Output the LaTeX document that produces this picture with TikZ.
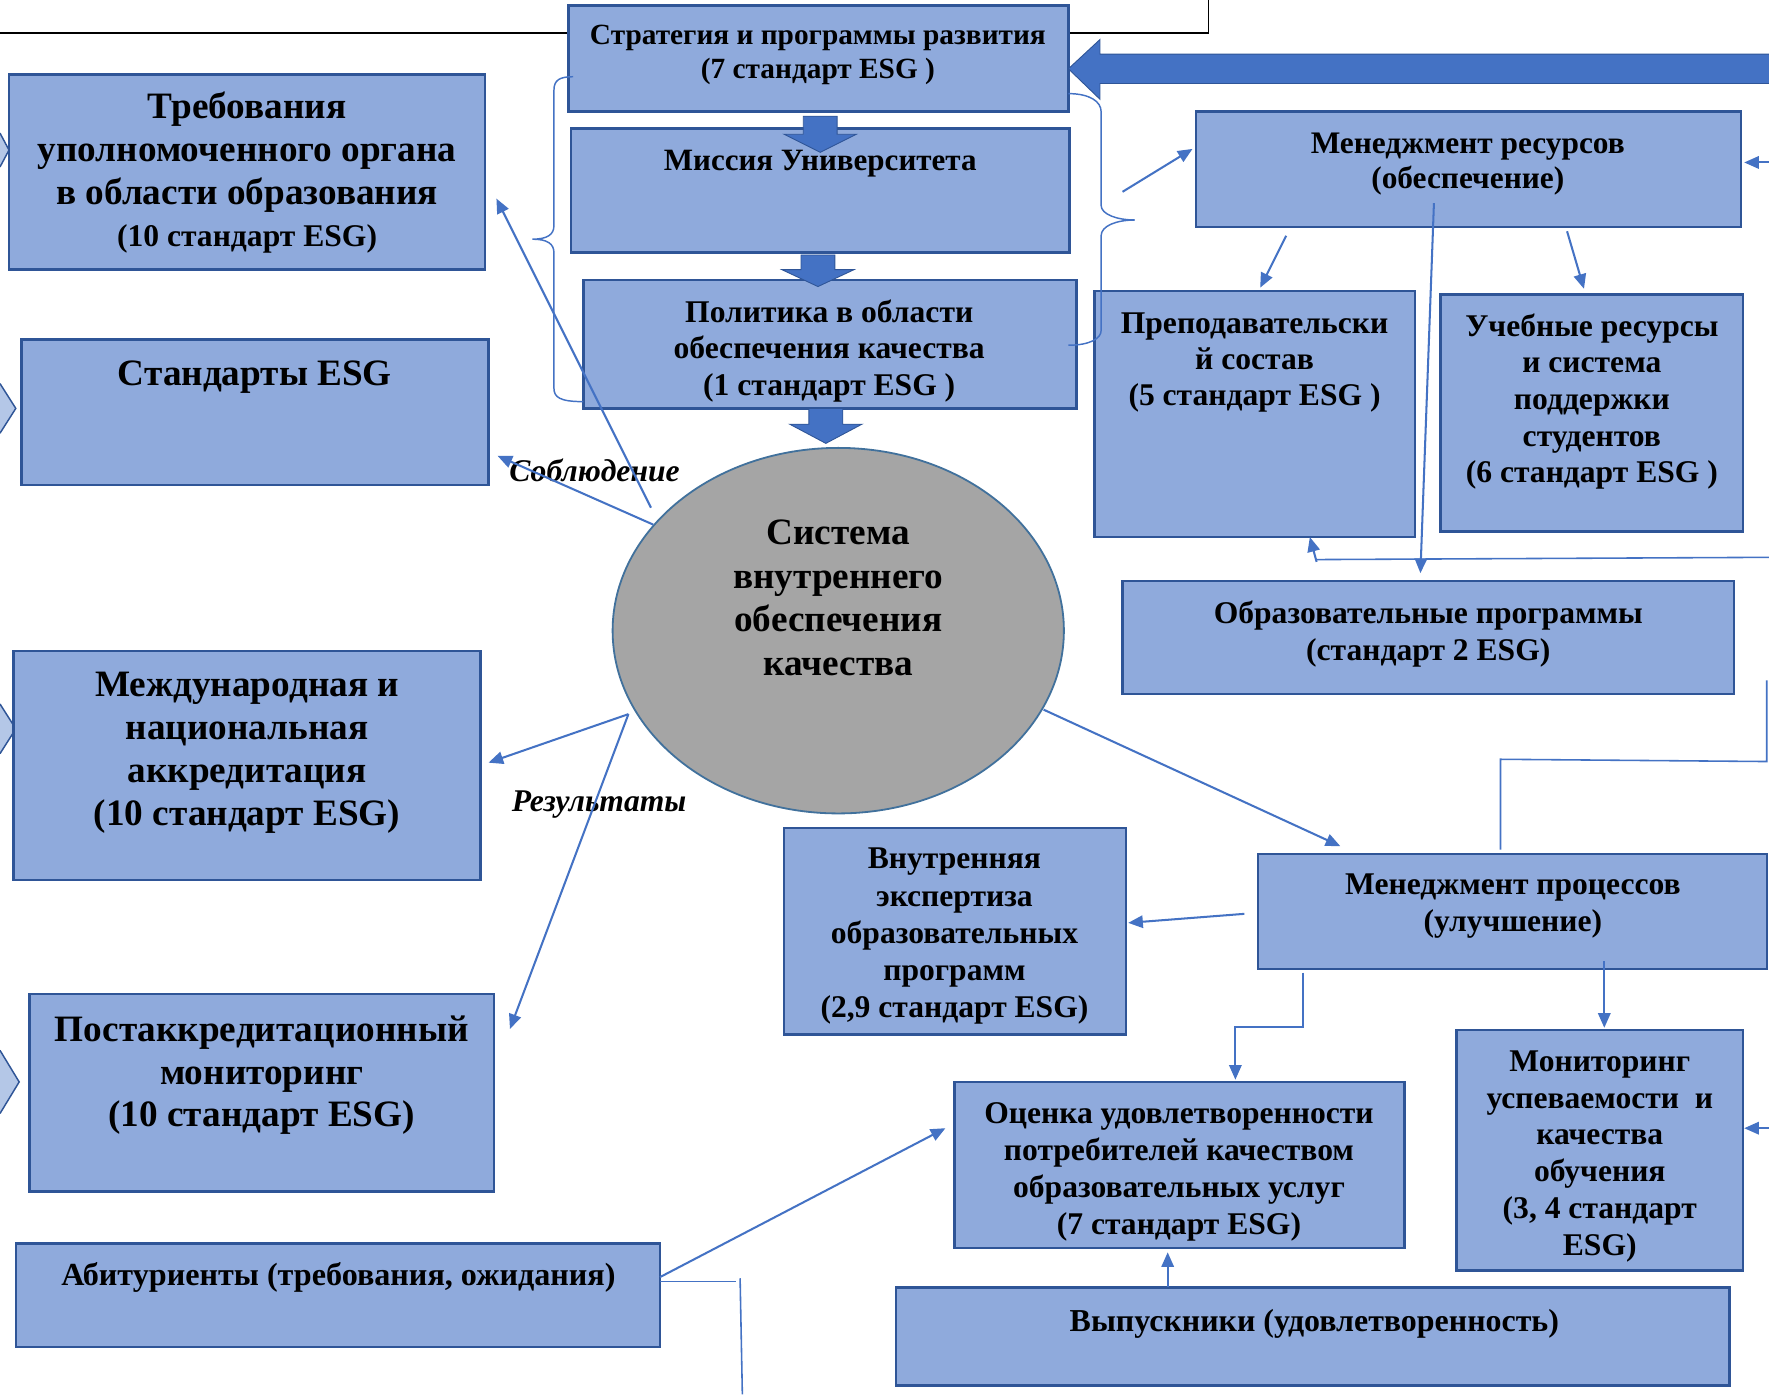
\documentclass[tikz,border=0pt]{standalone}
\usepackage{fontspec}
\setmainfont{Liberation Serif}
\usetikzlibrary{arrows.meta}
\definecolor{boxfill}{HTML}{8FAADC}
\definecolor{boxborder}{HTML}{2F5597}
\definecolor{arrowblue}{HTML}{4472C4}
\definecolor{ellfill}{HTML}{A5A5A5}
\definecolor{ellborder}{HTML}{41719C}
\definecolor{chevfill}{HTML}{B4C7E7}
\newcommand{\fz}[2]{\fontsize{#1}{#2}\selectfont}
\tikzset{
  box/.style={draw=boxborder, line width=2.2pt, fill=boxfill, inner sep=0pt, outer sep=0pt},
  txt/.style={align=center, inner sep=0pt, font=\bfseries},
  arr/.style={draw=arrowblue, line width=1.8pt, -{Triangle[length=13pt,width=11pt]}},
  ln/.style={draw=arrowblue, line width=1.4pt},
  blockarr/.style={fill=arrowblue, draw=boxborder, line width=0.8pt},
  bracestyle/.style={draw=arrowblue, line width=1.3pt},
  lbl/.style={inner sep=0pt, font=\bfseries\itshape\fz{28}{32}},
}
\begin{document}
\begin{tikzpicture}[x=1pt,y=-1pt]
\useasboundingbox (0,0) rectangle (1568,1236);
\fill[white] (0,0) rectangle (1568,1236);

% black line at top
\draw[black, line width=1.4pt] (0,29) -- (1071,29) -- (1071,0);

% left chevrons (tips of arrows entering from the left)
\foreach \cy/\hh/\tx in {133/15/8, 362/22/14, 646/22/14, 959/28/17}{
  \fill[chevfill] (0,\cy-\hh) -- (\tx,\cy) -- (0,\cy+\hh) -- cycle;
  \draw[boxborder, line width=1.3pt] (0,\cy-\hh) -- (\tx,\cy) -- (0,\cy+\hh);
}

% boxes
\node[box, minimum width=443pt, minimum height=94pt]  (strat) at (725.5,52) {};
\node[box, minimum width=442pt, minimum height=110pt] (miss)  at (727,169) {};
\node[box, minimum width=437pt, minimum height=114pt] (polit) at (735.5,305) {};
\node[box, minimum width=422pt, minimum height=173pt] (treb)  at (219,152.5) {};
\node[box, minimum width=414pt, minimum height=129pt] (stand) at (226,365.5) {};
\node[box, minimum width=414pt, minimum height=203pt] (mezh)  at (219,678.5) {};
\node[box, minimum width=412pt, minimum height=175pt] (post)  at (232,968.5) {};
\node[box, minimum width=571pt, minimum height=92pt]  (abit)  at (299.5,1148) {};
\node[box, minimum width=303pt, minimum height=183pt] (vnut)  at (846.5,825.5) {};
\node[box, minimum width=483pt, minimum height=102pt] (mres)  at (1301.5,150) {};
\node[box, minimum width=284pt, minimum height=218pt] (prep)  at (1112,367) {};
\node[box, minimum width=268pt, minimum height=210pt] (ucheb) at (1411,366) {};
\node[box, minimum width=542pt, minimum height=100pt] (obr)   at (1266,565) {};
\node[box, minimum width=451pt, minimum height=102pt] (mproc) at (1340.5,808) {};
\node[box, minimum width=399pt, minimum height=147pt] (ocen)  at (1045.5,1032.5) {};
\node[box, minimum width=254pt, minimum height=213pt] (monit) at (1418,1019.5) {};
\node[box, minimum width=739pt, minimum height=87pt]  (vyp)   at (1163.5,1184.5) {};

% ellipse
\draw[fill=ellfill, draw=ellborder, line width=1.6pt] (743,559) ellipse [x radius=200, y radius=162];
\coordinate (ell) at (743,559);

% texts
\node[txt, font=\bfseries\fz{26}{30}] (tstrat) at (725,49) {Стратегия и программы развития\\(7 стандарт ESG )};
\node[txt, font=\bfseries\fz{27.5}{31}] (tmiss) at (727,145) {Миссия Университета};
\node[txt, font=\bfseries\fz{28}{32.5}] (tpolit) at (735,311) {Политика в области\\обеспечения качества\\(1 стандарт ESG )};
\node[txt, font=\bfseries\fz{33}{38}] (ttreb) at (219,153) {Требования\\уполномоченного органа\\в области образования\\{\fz{28}{32}(10 стандарт ESG)}};
\node[txt, font=\bfseries\fz{33}{38}] (tstand) at (226,334) {Стандарты ESG};
\node[txt, font=\bfseries\fz{33}{38}] (tmezh) at (219,667) {Международная и\\национальная\\аккредитация\\(10 стандарт ESG)};
\node[txt, font=\bfseries\fz{33}{38}] (tpost) at (232,953) {Постаккредитационный\\мониторинг\\(10 стандарт ESG)};
\node[txt, font=\bfseries\fz{28.5}{32}] (tabit) at (300,1132) {Абитуриенты (требования, ожидания)};
\node[txt, font=\bfseries\fz{33}{38.5}] (tell) at (743,530) {Система\\внутреннего\\обеспечения\\качества};
\node[txt, font=\bfseries\fz{28}{33}] (tvnut) at (846,830) {Внутренняя\\экспертиза\\образовательных\\программ\\(2,9 стандарт ESG)};
\node[txt, font=\bfseries\fz{27.8}{31}] (tmres) at (1301,145) {Менеджмент ресурсов\\(обеспечение)};
\node[txt, font=\bfseries\fz{28}{32}] (tprep) at (1112,321) {Преподавательски\\й состав\\(5 стандарт ESG )};
\node[txt, font=\bfseries\fz{28}{32.5}] (tucheb) at (1411,356) {Учебные ресурсы\\и система\\поддержки\\студентов\\(6 стандарт ESG )};
\node[txt, font=\bfseries\fz{28}{32}] (tobr) at (1266,562) {Образовательные программы\\(стандарт 2 ESG)};
\node[txt, font=\bfseries\fz{28}{33}] (tmproc) at (1341,803) {Менеджмент процессов\\(улучшение)};
\node[txt, font=\bfseries\fz{28}{32.7}] (tocen) at (1045,1039) {Оценка удовлетворенности\\потребителей качеством\\образовательных услуг\\(7 стандарт ESG)};
\node[txt, font=\bfseries\fz{28}{32.6}] (tmonit) at (1418,1025) {Мониторинг\\успеваемости~ и\\качества\\обучения\\(3, 4 стандарт\\ESG)};
\node[txt, font=\bfseries\fz{28.3}{32}] (tvyp) at (1165,1173) {Выпускники (удовлетворенность)};

% labels
\node[lbl] (lsobl) at (527,417) {Соблюдение};
\node[lbl] (lres) at (531,713) {Результаты};

% block arrows (vertical)
\foreach \cx/\ya/\yb/\yc in {727/103/119/135, 725/226/239/254, 732/362/376/393}{
  \draw[blockarr] (\cx-15,\ya) -- (\cx+15,\ya) -- (\cx+15,\yb) -- (\cx+32,\yb) -- (\cx,\yc)
     -- (\cx-32,\yb) -- (\cx-15,\yb) -- cycle;
}
% big horizontal arrow
\draw[blockarr] (strat.east |- 0,61) -- (975,35) -- (975,48) -- (1572,48) -- (1572,74) -- (975,74) -- (975,88) -- cycle;

% braces
\draw[bracestyle] (508,68) .. controls (496,68) and (491,71) .. (491,80) -- (491,200)
   .. controls (491,208) and (485,212) .. (472,212)
   .. controls (485,212) and (491,216) .. (491,224) -- (491,344)
   .. controls (491,352) and (496,356) .. (517,356);
\draw[bracestyle] (947,83) .. controls (966,83) and (976,90) .. (976,99) -- (976,182)
   .. controls (976,190) and (990,195) .. (1006,195)
   .. controls (990,195) and (976,200) .. (976,209) -- (976,293)
   .. controls (976,300) and (966,306) .. (947,306);

% connector coordinates
\coordinate (e1) at (577,450);
\coordinate (e2) at (579,465);
\coordinate (e3) at (557,633);
\coordinate (e4) at (925,629);
\coordinate (trebtip) at (440,176);
\coordinate (standtip) at (441,404);
\coordinate (mezhtip) at (433,676);
\coordinate (posttip) at (452,912);
\coordinate (mproctip) at (1188,750);
\coordinate (vnuttip) at (1000,818);
\coordinate (mprocl) at (1103,810);
\coordinate (brtip) at (995,170);
\coordinate (mrestip) at (1057,132);
\coordinate (rin1) at (1568,144);
\coordinate (rin2) at (1568,1000);
\coordinate (hl) at (1568,494);
\coordinate (hlend) at (1166,496);

% connectors
\draw[arr] (e1) -- (trebtip);
\draw[arr] (e2) -- (standtip);
\draw[arr] (e3) -- (mezhtip);
\draw[arr] (e3) -- (posttip);
\draw[arr] (e4) -- (mproctip);
\draw[arr] (mprocl) -- (vnuttip);
\draw[arr] (1155,862) -- (1155,910) -- (1095,910) -- (1095,957);
\draw[arr] (1422,852) -- (1422,911);
\draw[arr] (abit.east |- 0,1132) -- (838,1000);
\draw[ln] (abit.east |- 0,1136) -- (652,1136);
\draw[ln] (656,1133) -- (658,1236);
\draw[arr] (vyp.north -| 1035,0) -- (1035,1110);
\draw[arr] (rin2) -- (1546,1000);
\draw[arr] (rin1) -- (1546,144);
\draw[arr] (brtip) -- (mrestip);
\draw[arr] (1140,209) -- (1117,255);
\draw[arr] (1389,205) -- (1404,256);
\draw[arr] (1271,180) -- (1259,508);
\draw[ln] (hl) -- (hlend);
\draw[arr] (1167,498) -- (1161,476);
\draw[ln] (1330,753) -- (1330,673) -- (1566,675) -- (1566,603);
\end{tikzpicture}
\end{document}
